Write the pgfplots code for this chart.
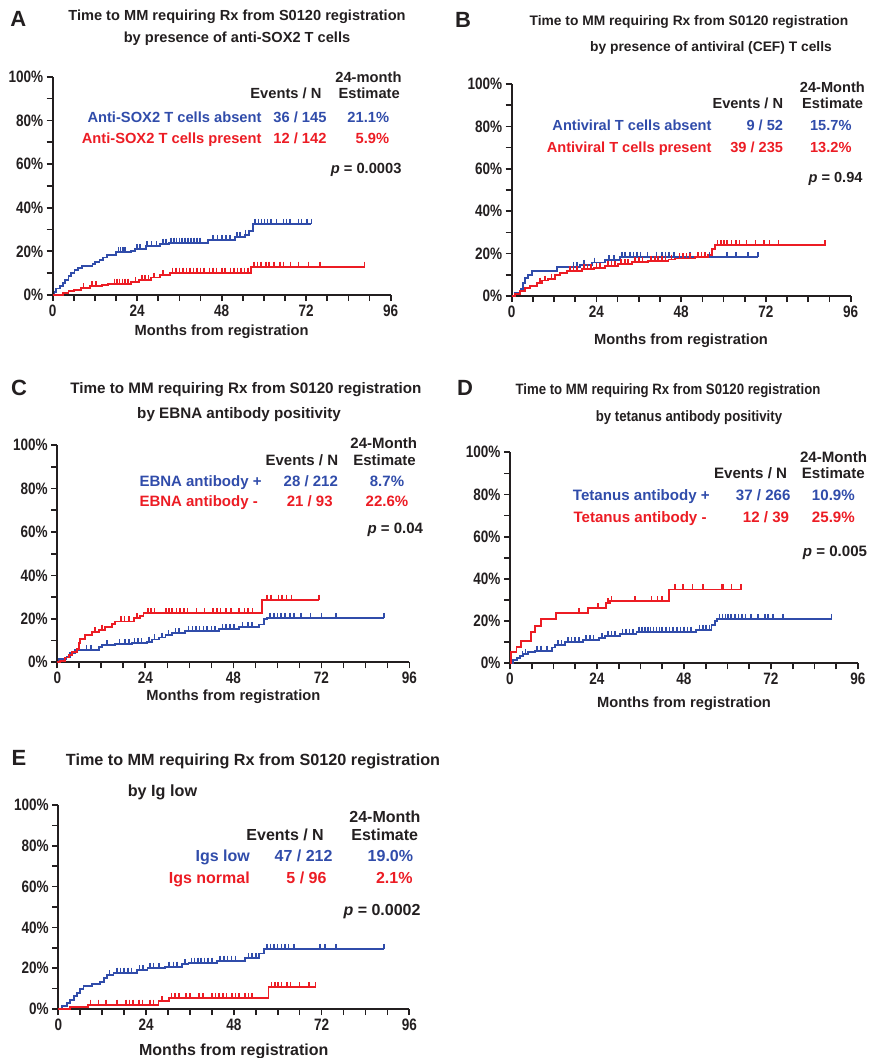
\documentclass[border=0pt]{standalone}
\usepackage{fontspec}
\setmainfont{Liberation Sans}
\newfontfamily\narrowfont[FakeStretch=0.82]{Liberation Sans}
\newfontfamily\condfont[FakeStretch=0.88]{Liberation Sans}
\usepackage{pgfplots}
\usepackage{pgfplotstable}
\pgfplotsset{compat=1.18}

\definecolor{kmblue}{RGB}{48,76,170}
\definecolor{kmred}{RGB}{236,28,36}
\definecolor{ink}{RGB}{35,31,32}

\newcommand\ff[1]{\bfseries\fontsize{#1}{#1}\selectfont}

% t = months, p = cumulative %, c = 1 for a censored case
\pgfplotstableread{
t p c
0 0 0
0.5 1.5 0
1 3 0
2 4 0
2.8 5.5 0
3.6 7 0
4.5 8.5 0
5.3 10 0
6.2 11.5 0
7.3 12.5 0
8.3 13.3 0
11.3 14.3 0
12 15.3 0
13.3 16.2 0
14.3 17.2 0
15.5 18.5 0
18 19.6 0
18.7 19.6 1
19.3 19.6 1
19.9 19.6 1
20.5 19.6 1
22.2 20.3 0
23.5 21.1 0
23.9 21.1 1
24.8 21.1 1
26.5 22.3 0
26.7 22.3 1
28.1 22.3 1
29.5 22.3 1
30.5 23.5 0
31.4 23.5 1
32.2 23.5 1
33 24 0
33.6 24 1
34.4 24 1
35.2 24 1
36 24 1
36.8 24 1
37.6 24 1
38.5 24 1
39.3 24 1
40.2 24 1
41 24 1
41.9 24 1
44.2 25.2 0
45.6 25.2 1
46.8 25.2 1
48 25.2 1
49.2 25.2 1
50.4 25.2 1
51.8 26.5 0
52.3 26.5 1
53.2 26.5 1
54.5 27.5 0
54.8 27.5 1
55.6 27.5 1
55.8 29.5 0
57 32.6 0
57.5 32.6 1
58.4 32.6 1
59.3 32.6 1
60.2 32.6 1
61 32.6 1
62 32.6 1
63.6 32.6 1
65.5 32.6 1
66.4 32.6 1
67.4 32.6 1
69.8 32.6 1
70.7 32.6 1
72.2 32.6 1
73.5 32.6 1
}\Ablue

\pgfplotstableread{
t p c
0 0 0
3 0.8 0
4.5 1.8 0
6 2.4 0
8 3.2 0
8.7 3.2 1
10.5 4 0
11.2 4 1
12.3 4 1
14 4.7 0
15.7 5.2 0
17.5 5.2 1
18.3 5.2 1
19 5.2 1
19.8 5.2 1
20.6 5.2 1
21.4 5.2 1
22.3 5.9 0
23.5 5.9 1
24.5 6.8 0
25.3 6.8 1
26.2 6.8 1
27.2 6.8 1
28 8 0
28.8 8 1
30.4 9 0
31.4 9 1
33.2 10.2 0
34 10.2 1
35 10.2 1
36 10.2 1
37 10.2 1
38 10.2 1
39 10.2 1
40 10.2 1
41 10.2 1
42 10.2 1
43 10.2 1
44.5 10.2 1
45.5 10.2 1
46.5 10.2 1
48 10.2 1
49 10.2 1
50.5 10.2 1
51.5 10.2 1
52.5 10.2 1
53.5 10.2 1
54.5 10.2 1
55.5 10.2 1
56.4 13 0
57.2 13 1
58.2 13 1
59.2 13 1
60.5 13 1
61.5 13 1
62.8 13 1
64.5 13 1
65.5 13 1
67.5 13 1
69.8 13 1
72.6 13 1
76 13 1
88.6 13 1
}\Ared

\pgfplotstableread{
t p c
0 0 0
0.9 1.5 0
2.5 3.5 0
3.3 6 0
3.8 8.5 0
4.5 10 0
5.7 11.7 0
12.7 13.5 0
17.5 13.5 1
18.5 13.5 1
19.3 14.7 0
20.5 14.7 1
22.7 15.8 0
23.5 15.8 1
26.4 16.8 0
27.5 16.8 1
29 16.8 1
30.7 18.5 0
31.2 18.5 1
32 18.5 1
33.5 18.5 1
34.5 18.5 1
35.5 18.5 1
36.5 18.5 1
38.5 18.5 1
41 18.5 1
42.5 18.5 1
43.5 18.5 1
44.5 18.5 1
46 18.5 1
50.5 18.5 1
56 18.5 1
61 18.5 1
63.5 18.5 1
67 18.5 1
69.8 18.5 1
}\Bblue

\pgfplotstableread{
t p c
0 0 0
0.9 1 0
2.3 2.2 0
3.8 3.6 0
5.2 4.8 0
7.1 6.3 0
8 6.3 1
8.5 7.3 0
9.5 7.3 1
10.4 8.2 0
11.3 8.2 1
12.3 9.8 0
13.7 10.8 0
15.6 11.8 0
16.5 11.8 1
17.5 11.8 1
18.5 11.8 1
19.9 12.6 0
20.5 12.6 1
21.5 12.6 1
22.5 12.6 1
23.2 13.2 0
24 13.2 1
25 13.2 1
26.4 14.2 0
27.3 14.2 1
28.3 14.2 1
29.2 14.2 1
30.2 15.2 0
31 15.2 1
32 15.2 1
33 15.2 1
34 16 0
35 16 1
36 16 1
37 16 1
38.7 16.6 0
39.5 16.6 1
40.5 16.6 1
41.5 16.6 1
42.5 16.6 1
43.5 16.6 1
44.4 17.2 0
45.3 17.2 1
46.3 17.7 0
47.5 17.7 1
48.5 17.7 1
49.5 17.7 1
50.5 17.7 1
51.9 18.2 0
52.8 18.2 1
53.8 18.2 1
54.8 18.2 1
55.7 19.5 0
56.6 22 0
57.5 24 0
58.3 24 1
59.2 24 1
60.1 24 1
61 24 1
62.3 24 1
63.5 24 1
64.5 24 1
66.5 24 1
69 24 1
71.5 24 1
73 24 1
75.5 24 1
88.7 24 1
}\Bred

\pgfplotstableread{
t p c
0 0 0
0.5 1.5 0
2.5 2.5 0
3.5 4.2 0
4.9 5.7 0
8 5.7 1
9.2 5.7 1
11.3 6.9 0
12.2 7.9 0
13.5 7.9 1
15.8 8.4 0
17 8.4 1
18.5 8.4 1
19.5 8.4 1
20.4 8.7 0
21 8.7 1
22 8.7 1
23 8.7 1
24.5 9.5 0
25 9.5 1
25.8 10.5 0
26.5 10.5 1
27.6 11.4 0
28.5 11.4 1
29.5 12.5 0
30.3 12.5 1
31.3 13.3 0
32.2 13.3 1
33.2 13.3 1
34.9 14.3 0
35.8 14.3 1
36.8 14.3 1
37.8 14.3 1
38.8 14.3 1
39.8 14.3 1
40.8 14.3 1
42 14.3 1
43 14.3 1
44 15.2 0
45 15.2 1
46 15.2 1
47 15.2 1
48.2 15.2 1
49.5 16.2 0
50.5 16.2 1
52 16.2 1
53 16.2 1
54.9 17.4 0
56.3 19.8 0
57.2 20.5 0
58 20.5 1
59 20.5 1
60 20.5 1
61 20.5 1
62 20.5 1
63.5 20.5 1
64.5 20.5 1
66.5 20.5 1
69 20.5 1
72 20.5 1
76 20.5 1
89 20.5 1
}\Cblue

\pgfplotstableread{
t p c
0 0 0
0.8 0.8 0
2.2 2.2 0
3.1 3.4 0
4 4.9 0
5.4 6 0
5.8 8.8 0
6.3 10.8 0
7.6 12.4 0
9.5 13.8 0
10.3 13.8 1
11.3 15 0
12.2 15 1
13.1 16.3 0
14.9 17.8 0
15.8 18.8 0
17.3 18.8 1
18.3 18.8 1
19.5 18.8 1
20.8 20.2 0
21.7 20.2 1
22.6 21.5 0
23.5 22.6 0
24.7 22.6 1
25.6 22.6 1
26.5 22.6 1
29.7 22.6 1
30.5 22.6 1
31.3 22.6 1
32.5 22.6 1
33.5 22.6 1
34.5 22.6 1
35.5 22.6 1
37.9 22.6 1
40.1 22.6 1
42.5 22.6 1
43.5 22.6 1
44.5 22.6 1
46 22.6 1
47.4 22.6 1
49.6 22.6 1
51 22.6 1
52 22.6 1
53.2 22.6 1
55.8 28.8 0
57.2 28.8 1
58.3 28.8 1
60.3 28.8 1
61.2 28.8 1
62.5 28.8 1
63.8 28.8 1
71.3 28.8 1
}\Cred

\pgfplotstableread{
t p c
0 0 0
0.9 1.5 0
2 2.5 0
2.8 3.5 0
3.4 3.5 1
3.7 4.5 0
4.3 4.5 1
5 5.5 0
6.9 6 0
7.5 6 1
8.6 6 1
10.2 6 1
11.5 7.5 0
12.4 8.5 0
13.2 8.5 1
14.2 8.5 1
15.2 10 0
16 10 1
17 10 1
18 10 1
19 10 1
20.2 11 0
21 11 1
22 11 1
23 11 1
24.5 12 0
25.3 12 1
26.2 13 0
27 13 1
28 13 1
29 13 1
30.3 14 0
31 14 1
32 14 1
33 14 1
34 14 1
34.9 15 0
35.6 15 1
36.4 15 1
37.2 15 1
38 15 1
38.8 15 1
39.6 15 1
40.4 15 1
41.2 15 1
42 15 1
43 15 1
44 15 1
45 15 1
46 15 1
47 15 1
48 15 1
49 15 1
50 15 1
51.4 16 0
52.3 16 1
53.2 16 1
54.1 16 1
55 16 1
55.6 18 0
56.5 20 0
57.2 21 0
57.8 21 1
58.6 21 1
59.4 21 1
60.2 21 1
61 21 1
62 21 1
63 21 1
64 21 1
65 21 1
66.5 21 1
68.4 21 1
70.3 21 1
71.2 21 1
72.5 21 1
75.3 21 1
88.7 21 1
}\Dblue

\pgfplotstableread{
t p c
0 0 0
0.2 5.5 0
1.8 7.9 0
3 10.7 0
5.8 15 0
6.9 17.7 0
8.5 20.9 0
12.6 23.7 0
19 23.7 1
21.4 26 0
24.3 26 1
26.6 28.4 0
27.1 28.4 1
27.5 29.5 0
28 29.5 1
34.5 29.5 1
39 29.5 1
40.7 29.5 1
42 29.5 1
43.9 35 0
45.5 35 1
47.8 35 1
50.3 35 1
53.3 35 1
58.3 35 1
58.8 35 1
61.1 35 1
63.8 35 1
}\Dred

\pgfplotstableread{
t p c
0 0 0
1 1.5 0
2.4 3.1 0
3.3 4.4 0
4.2 6.4 0
5.1 8 0
6 10 0
6.9 11.2 0
9.2 12.2 0
11.5 13.4 0
12.4 15 0
13.3 16.6 0
14 16.6 1
15.1 17.8 0
16 17.8 1
17 17.8 1
18 17.8 1
19 17.8 1
20 17.8 1
21.5 19 0
22.2 19 1
23.2 19 1
24.4 20.2 0
25 20.2 1
26 20.2 1
27.5 20.2 1
29.3 20.8 0
30.3 20.8 1
31.5 20.8 1
32.5 20.8 1
33.8 22 0
34.6 22 1
35.6 22.7 0
36.4 22.7 1
37.3 22.7 1
38.2 22.7 1
39.1 22.7 1
40 22.7 1
41 22.7 1
42 22.7 1
43.4 23.7 0
44.3 23.7 1
45.3 23.7 1
46.3 23.7 1
47.4 23.7 1
48.5 23.7 1
51.1 24.8 0
52 24.8 1
53 24.8 1
54 24.8 1
54.8 27.2 0
56.2 29.5 0
57 29.5 1
58 29.5 1
59 29.5 1
60 29.5 1
61 29.5 1
62 29.5 1
63 29.5 1
64.5 29.5 1
71.5 29.5 1
73 29.5 1
76 29.5 1
89 29.5 1
}\Eblue

\pgfplotstableread{
t p c
0 0 0
3.2 1 0
8.2 2.1 0
8.8 2.1 1
11 2.1 1
13 2.1 1
16 2.1 1
18.5 2.1 1
19.5 2.1 1
20.5 2.1 1
22 2.1 1
23 2.1 1
25 2.1 1
26 2.1 1
27.4 3.8 0
28.3 3.8 1
30.2 5.3 0
31 5.3 1
32 5.3 1
33 5.3 1
35 5.3 1
36 5.3 1
38.5 5.3 1
39.5 5.3 1
42 5.3 1
43 5.3 1
44 5.3 1
45 5.3 1
46 5.3 1
47.5 5.3 1
48.5 5.3 1
49.5 5.3 1
51 5.3 1
52 5.3 1
53 5.3 1
57.5 10.6 0
58.3 10.6 1
59.2 10.6 1
60.1 10.6 1
61 10.6 1
62.5 10.6 1
63.5 10.6 1
66 10.6 1
68.5 10.6 1
70.3 10.6 1
}\Ered

\pgfplotsset{
  km/.style={
    scale only axis,
    xmin=0, xmax=96, ymin=0, ymax=100,
    enlargelimits=false,
    axis x line=bottom, axis y line=left,
    axis line style={line width=2.2pt, ink, -},
    xtick={0,24,...,96}, minor xtick={6,12,...,90},
    ytick={0,20,...,100}, minor ytick={10,30,...,90},
    tick align=outside,
    major tick length=6pt, minor tick length=6pt,
    tick style={line width=1.7pt, ink},
    ticklabel style={font=\narrowfont\bfseries\fontsize{16.5}{18}\selectfont, text=ink},
    /pgf/number format/assume math mode=true,
    yticklabel={\pgfmathprintnumber{\tick}\%},
    clip=false,
  },
  kmline/.style={const plot, no marks, line width=1.9pt, #1},
  kmcens/.style={only marks, mark=|, mark size=2.8pt, #1,
    mark options={line width=1.6pt, yshift=2.2pt},
    unbounded coords=discard,
    y filter/.expression={\thisrow{c}>0.5 ? y : nan}},
}

\begin{document}
\begin{tikzpicture}
\path[use as bounding box] (0,0) rectangle (876pt,-1058pt);

% A
\begin{axis}[km, at={(52.7pt,-295pt)}, anchor=south west, width=338pt, height=218.3pt]
\addplot[kmline=kmblue] table[x=t,y=p] {\Ablue};
\addplot[kmcens=kmblue] table[x=t,y=p] {\Ablue};
\addplot[kmline=kmred] table[x=t,y=p] {\Ared};
\addplot[kmcens=kmred] table[x=t,y=p] {\Ared};
\end{axis}

% B
\begin{axis}[km, at={(511.7pt,-296pt)}, anchor=south west, width=339pt, height=212pt]
\addplot[kmline=kmblue] table[x=t,y=p] {\Bblue};
\addplot[kmcens=kmblue] table[x=t,y=p] {\Bblue};
\addplot[kmline=kmred] table[x=t,y=p] {\Bred};
\addplot[kmcens=kmred] table[x=t,y=p] {\Bred};
\end{axis}

% C
\begin{axis}[km, at={(57.3pt,-662.3pt)}, anchor=south west, width=352.2pt, height=217.3pt]
\addplot[kmline=kmblue] table[x=t,y=p] {\Cblue};
\addplot[kmcens=kmblue] table[x=t,y=p] {\Cblue};
\addplot[kmline=kmred] table[x=t,y=p] {\Cred};
\addplot[kmcens=kmred] table[x=t,y=p] {\Cred};
\end{axis}

% D
\begin{axis}[km, at={(510pt,-663.3pt)}, anchor=south west, width=348pt, height=211pt]
\addplot[kmline=kmblue] table[x=t,y=p] {\Dblue};
\addplot[kmcens=kmblue] table[x=t,y=p] {\Dblue};
\addplot[kmline=kmred] table[x=t,y=p] {\Dred};
\addplot[kmcens=kmred] table[x=t,y=p] {\Dred};
\end{axis}

% E
\begin{axis}[km, at={(58.3pt,-1009pt)}, anchor=south west, width=351pt, height=204pt]
\addplot[kmline=kmblue] table[x=t,y=p] {\Eblue};
\addplot[kmcens=kmblue] table[x=t,y=p] {\Eblue};
\addplot[kmline=kmred] table[x=t,y=p] {\Ered};
\addplot[kmcens=kmred] table[x=t,y=p] {\Ered};
\end{axis}

\begin{scope}[x=1pt, y=-1pt, every node/.style={inner sep=0pt, text=ink}]
% A texts
\node[anchor=base] at (18.3,26) {\ff{22}A};
\node[anchor=base] at (237,20.3) {\ff{14.6}Time to MM requiring Rx from S0120 registration};
\node[anchor=base] at (237,42.3) {\ff{14.6}by presence of anti-SOX2 T cells};
\node[anchor=base east] at (401.7,82) {\ff{14.7}24-month};
\node[anchor=base east] at (400,98.6) {\ff{14.7}Estimate};
\node[anchor=base east] at (321.7,98.6) {\ff{14.7}Events / N};
\node[anchor=base east, text=kmblue] at (261.7,122.6) {\ff{14.7}Anti-SOX2 T cells absent};
\node[anchor=base east, text=kmblue] at (326.7,122.6) {\ff{14.7}36 / 145};
\node[anchor=base east, text=kmblue] at (389.3,122.6) {\ff{14.7}21.1\%};
\node[anchor=base east, text=kmred] at (261.7,143.6) {\ff{14.7}Anti-SOX2 T cells present};
\node[anchor=base east, text=kmred] at (326.7,143.6) {\ff{14.7}12 / 142};
\node[anchor=base east, text=kmred] at (389.3,143.6) {\ff{14.7}5.9\%};
\node[anchor=base east] at (401.7,173.6) {\ff{14.7}\textit{p} = 0.0003};
\node[anchor=base] at (221.7,335.3) {\ff{14.7}Months from registration};

% B texts
\node[anchor=base] at (463,27) {\ff{22}B};
\node[anchor=base] at (689,25.3) {\ff{13.8}Time to MM requiring Rx from S0120 registration};
\node[anchor=base] at (711,51.3) {\ff{13.8}by presence of antiviral (CEF) T cells};
\node[anchor=base east] at (865,92) {\ff{14.6}24-Month};
\node[anchor=base east] at (863.3,108) {\ff{14.6}Estimate};
\node[anchor=base east] at (783.3,108) {\ff{14.6}Events / N};
\node[anchor=base east, text=kmblue] at (711.7,130.3) {\ff{14.6}Antiviral T cells absent};
\node[anchor=base east, text=kmblue] at (783.3,130.3) {\ff{14.6}9 / 52};
\node[anchor=base east, text=kmblue] at (851.7,130.3) {\ff{14.6}15.7\%};
\node[anchor=base east, text=kmred] at (711.7,152.6) {\ff{14.6}Antiviral T cells present};
\node[anchor=base east, text=kmred] at (783.3,152.6) {\ff{14.6}39 / 235};
\node[anchor=base east, text=kmred] at (851.7,152.6) {\ff{14.6}13.2\%};
\node[anchor=base east] at (862.7,182.6) {\ff{14.6}\textit{p} = 0.94};
\node[anchor=base] at (681,344.3) {\ff{14.7}Months from registration};

% C texts
\node[anchor=base] at (19,395) {\ff{22}C};
\node[anchor=base] at (246,393.5) {\ff{15.2}Time to MM requiring Rx from S0120 registration};
\node[anchor=base] at (239,418.5) {\ff{15.2}by EBNA antibody positivity};
\node[anchor=base east] at (417.3,448.6) {\ff{15}24-Month};
\node[anchor=base east] at (416,465.3) {\ff{15}Estimate};
\node[anchor=base east] at (338.3,465.3) {\ff{15}Events / N};
\node[anchor=base west, text=kmblue] at (139.3,486) {\ff{15}EBNA antibody +};
\node[anchor=base, text=kmblue] at (310.8,486) {\ff{15}28 / 212};
\node[anchor=base, text=kmblue] at (387,486) {\ff{15}8.7\%};
\node[anchor=base west, text=kmred] at (139.3,506) {\ff{15}EBNA antibody -};
\node[anchor=base, text=kmred] at (309.7,506) {\ff{15}21 / 93};
\node[anchor=base, text=kmred] at (387,506) {\ff{15}22.6\%};
\node[anchor=base east] at (423.3,533.6) {\ff{15}\textit{p} = 0.04};
\node[anchor=base] at (233.4,700.3) {\ff{14.7}Months from registration};

% D texts
\node[anchor=base] at (465,395) {\ff{22}D};
\node[anchor=base] at (668,394) {\condfont\ff{15}Time to MM requiring Rx from S0120 registration};
\node[anchor=base] at (689,421) {\condfont\ff{15}by tetanus antibody positivity};
\node[anchor=base east] at (867.3,462) {\ff{15.1}24-Month};
\node[anchor=base east] at (865,478.6) {\ff{15.1}Estimate};
\node[anchor=base east] at (787.3,478.6) {\ff{15.1}Events / N};
\node[anchor=base west, text=kmblue] at (572.7,500.3) {\ff{15.1}Tetanus antibody +};
\node[anchor=base east, text=kmblue] at (790.7,500.3) {\ff{15.1}37 / 266};
\node[anchor=base east, text=kmblue] at (855,500.3) {\ff{15.1}10.9\%};
\node[anchor=base west, text=kmred] at (573.3,522) {\ff{15.1}Tetanus antibody -};
\node[anchor=base east, text=kmred] at (789.3,522) {\ff{15.1}12 / 39};
\node[anchor=base east, text=kmred] at (855,522) {\ff{15.1}25.9\%};
\node[anchor=base east] at (867.3,556) {\ff{15.1}\textit{p} = 0.005};
\node[anchor=base] at (684,707.3) {\ff{14.7}Months from registration};

% E texts
\node[anchor=base] at (19,765) {\ff{22}E};
\node[anchor=base] at (253,765.8) {\ff{16.2}Time to MM requiring Rx from S0120 registration};
\node[anchor=base] at (162.5,796.8) {\ff{16.2}by Ig low};
\node[anchor=base east] at (420.7,822) {\ff{16}24-Month};
\node[anchor=base east] at (418.3,840.3) {\ff{16}Estimate};
\node[anchor=base east] at (324,840.3) {\ff{16}Events / N};
\node[anchor=base east, text=kmblue] at (250,861.3) {\ff{16}Igs low};
\node[anchor=base east, text=kmblue] at (332.7,861.3) {\ff{16}47 / 212};
\node[anchor=base east, text=kmblue] at (413.3,861.3) {\ff{16}19.0\%};
\node[anchor=base east, text=kmred] at (250,883.6) {\ff{16}Igs normal};
\node[anchor=base east, text=kmred] at (326.7,883.6) {\ff{16}5 / 96};
\node[anchor=base east, text=kmred] at (412.7,883.6) {\ff{16}2.1\%};
\node[anchor=base east] at (420.7,915.3) {\ff{16}\textit{p} = 0.0002};
\node[anchor=base] at (233.8,1055.3) {\ff{16}Months from registration};
\end{scope}
\end{tikzpicture}
\end{document}
